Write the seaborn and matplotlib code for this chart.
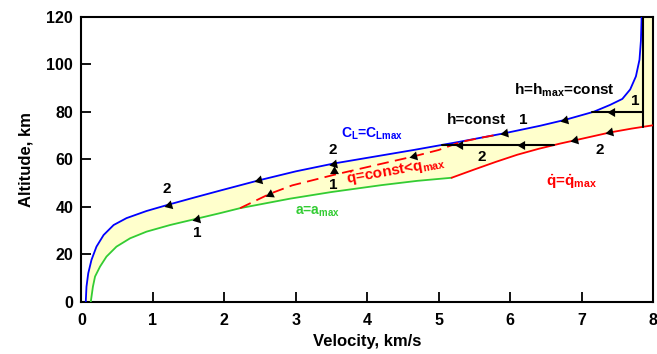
import numpy as np
import pandas as pd
import matplotlib
matplotlib.use("Agg")
import matplotlib.pyplot as plt
import seaborn as sns

# Lift limit C_L = C_Lmax (upper edge of the corridor)
cl_v = [0.06, 0.07, 0.095, 0.14, 0.21, 0.31, 0.45, 0.63, 0.91, 1.22, 1.57, 1.94,
        2.48, 3.0, 3.53, 4.1, 4.65, 5.3, 5.93, 6.42, 6.77, 7.17, 7.4, 7.57,
        7.68, 7.76, 7.81, 7.83, 7.84]
cl_h = [0, 6.4, 12.1, 17.7, 23.3, 28.2, 32.4, 35.3, 38.3, 41.0, 43.9, 46.9,
        51.2, 55.0, 58.3, 61.2, 64.0, 67.5, 71.1, 74.2, 76.7, 80.1, 83.0, 85.5,
        89.5, 95, 102, 110, 120]

# Load-factor limit a = a_max
acc_v = [0.13, 0.16, 0.19, 0.26, 0.35, 0.49, 0.68, 0.91, 1.24, 1.59, 1.94,
         2.22, 2.92, 3.5, 4.2, 4.7, 5.18]
acc_h = [0, 6.4, 10.7, 14.9, 19.1, 23.3, 26.8, 29.6, 32.4, 34.9, 37.4,
         39.5, 43.5, 46.3, 49.2, 51.0, 52.3]

# Heat-flux limit q = q_max
qmax_v = [5.18, 5.5, 5.8, 6.1, 6.4, 6.7, 7.0, 7.4, 7.7, 8.0]
qmax_h = [52.3, 55.8, 59.0, 62.0, 64.5, 66.7, 68.7, 71.4, 73.0, 74.4]

# Constant heat flux below the limit
qc_v = [2.22, 2.64, 2.95, 3.53, 4.1, 4.65, 5.0, 5.3, 5.6, 5.85]
qc_h = [39.5, 45.6, 49.1, 53.5, 57.5, 61.3, 64.0, 67.3, 69.2, 70.6]

# Constant-altitude legs and the entry speed
h_const = 66.1
h_max = 79.9
v_entry = 7.86

# Arrowhead stations (speed along each curve)
cl_arrows = [1.22, 2.48, 3.53, 5.93, 6.77]
acc_arrows = [1.61]
qc_arrows = [2.64, 4.65]
qmax_arrows = [6.91, 7.4]
hconst_arrows = [5.3, 6.17]
hmax_arrows = [7.43]

x_ticks = [0, 1, 2, 3, 4, 5, 6, 7, 8]
y_ticks = [0, 20, 40, 60, 80, 100, 120]

sns.set_theme(style="ticks")
plt.rcParams["font.family"] = ["Liberation Sans", "DejaVu Sans"]
plt.rcParams["font.weight"] = "bold"
plt.rcParams["text.color"] = "black"
plt.rcParams["axes.labelcolor"] = "black"
plt.rcParams["xtick.color"] = "black"
plt.rcParams["ytick.color"] = "black"
plt.rcParams["xtick.labelcolor"] = "black"
plt.rcParams["ytick.labelcolor"] = "black"
plt.rcParams["mathtext.fontset"] = "custom"
for key in ("rm", "it", "bf", "sf"):
    plt.rcParams["mathtext." + key] = "Liberation Sans:bold"

BLUE = "#0000ff"
GREEN = "#33cc33"
RED = "#ff0000"
FILL = "#ffffcc"

fig = plt.figure(figsize=(6.57, 3.54), dpi=100)
ax = fig.add_axes([0.124, 0.147, 0.870, 0.805])
ax.set_xlim(0, 8)
ax.set_ylim(0, 120)

# Corridor shading: below the lift limit, above the a/q limits
poly_v = cl_v + [8.0] + qmax_v[::-1] + acc_v[::-1]
poly_h = cl_h + [120.0] + qmax_h[::-1] + acc_h[::-1]
ax.fill(poly_v, poly_h, color=FILL, lw=0, zorder=1)

df_cl = pd.DataFrame({"v": cl_v, "h": cl_h})
df_acc = pd.DataFrame({"v": acc_v, "h": acc_h})
df_q = pd.DataFrame({"v": qmax_v, "h": qmax_h})

sns.lineplot(data=df_cl, x="v", y="h", sort=False, estimator=None, color=BLUE, lw=1.3, ax=ax, zorder=3)
sns.lineplot(data=df_acc, x="v", y="h", sort=False, estimator=None, color=GREEN, lw=1.3, ax=ax, zorder=3)
sns.lineplot(data=df_q, x="v", y="h", sort=False, estimator=None, color=RED, lw=1.3, ax=ax, zorder=3)
ax.plot(qc_v, qc_h, color=RED, lw=1.3, dashes=(6.5, 3.5), zorder=4)

# Constant-altitude legs and vertical entry line
v_hc_left = np.interp(h_const, cl_h, cl_v)
v_hc_right = np.interp(h_const, qmax_h, qmax_v)
ax.plot([v_hc_left, v_hc_right], [h_const, h_const], color="black", lw=1.5, zorder=5)
v_hm_left = np.interp(h_max, cl_h, cl_v)
ax.plot([v_hm_left, v_entry], [h_max, h_max], color="black", lw=1.5, zorder=5,
        solid_joinstyle="round")
h_entry_low = np.interp(v_entry, qmax_v, qmax_h)
ax.plot([v_entry, v_entry], [120, h_entry_low], color="black", lw=1.5, zorder=5)


def head(x, y, dx, dy):
    p0 = ax.transData.transform((x, y))
    p1 = ax.transData.transform((x + dx, y + dy))
    ang = np.degrees(np.arctan2(p1[1] - p0[1], p1[0] - p0[0]))
    ax.plot([x], [y], marker=(3, 0, ang - 90), ms=7.5, color="black",
            markeredgewidth=0, zorder=6, clip_on=False)


def heads_on(vs, cv, ch):
    for v in vs:
        h = np.interp(v, cv, ch)
        h2 = np.interp(v - 0.05, cv, ch)
        head(v, h, -0.05, h2 - h)


heads_on(cl_arrows, cl_v, cl_h)
heads_on(acc_arrows, acc_v, acc_h)
heads_on(qc_arrows, qc_v, qc_h)
heads_on(qmax_arrows, qmax_v, qmax_h)
for v in hconst_arrows:
    head(v, h_const, -0.05, 0)
for v in hmax_arrows:
    head(v, h_max, -0.05, 0)
head(3.53, 55.0, 0, 1)

# Path labels
tk = dict(fontsize=11, fontweight="bold", ha="center", va="center", zorder=7)
ax.text(1.19, 47.5, "2", **tk)
ax.text(1.62, 29.2, "1", **tk)
ax.text(3.52, 64.0, "2", **tk)
ax.text(3.52, 49.3, "1", **tk)
ax.text(6.18, 76.6, "1", **tk)
ax.text(5.6, 61.0, "2", **tk)
ax.text(7.75, 84.5, "1", **tk)
ax.text(7.26, 64.2, "2", **tk)

ax.text(4.07, 71.0, r"C$_L$=C$_{Lmax}$", color=BLUE, fontsize=10, fontweight="bold",
        ha="center", va="center", zorder=7)
ax.text(4.4, 55.0, r"$\dot{q}$=const<q$_{max}$", color=RED, fontsize=11, fontweight="bold",
        ha="center", va="center", rotation=10, rotation_mode="anchor", zorder=7)
ax.text(3.3, 38.0, r"a=a$_{max}$", color=GREEN, fontsize=10, fontweight="bold",
        ha="center", va="center", zorder=7)
ax.text(5.53, 76.6, "h=const", color="black", fontsize=11, fontweight="bold",
        ha="center", va="center", zorder=7)
ax.text(6.76, 89.0, r"h=h$_{max}$=const", color="black", fontsize=11, fontweight="bold",
        ha="center", va="center", zorder=7)
ax.text(6.86, 50.7, r"$\dot{q}$=$\dot{q}_{max}$", color=RED, fontsize=11, fontweight="bold",
        ha="center", va="center", zorder=7)

ax.set_xticks(x_ticks)
ax.set_yticks(y_ticks)
ax.tick_params(axis="both", direction="in", length=7, width=1.3, colors="black",
               labelcolor="black", labelsize=11.5)
ax.tick_params(axis="x", pad=8)
ax.tick_params(axis="y", pad=6)
for lab in ax.get_xticklabels() + ax.get_yticklabels():
    lab.set_fontweight("bold")
for sp in ax.spines.values():
    sp.set_visible(True)
    sp.set_linewidth(1.5)
    sp.set_color("black")

ax.set_xlabel("Velocity, km/s", fontsize=12, fontweight="bold", labelpad=4, color="black")
ax.set_ylabel("Altitude, km", fontsize=12, fontweight="bold", labelpad=9, color="black")

fig.savefig("out.png", dpi=100)
